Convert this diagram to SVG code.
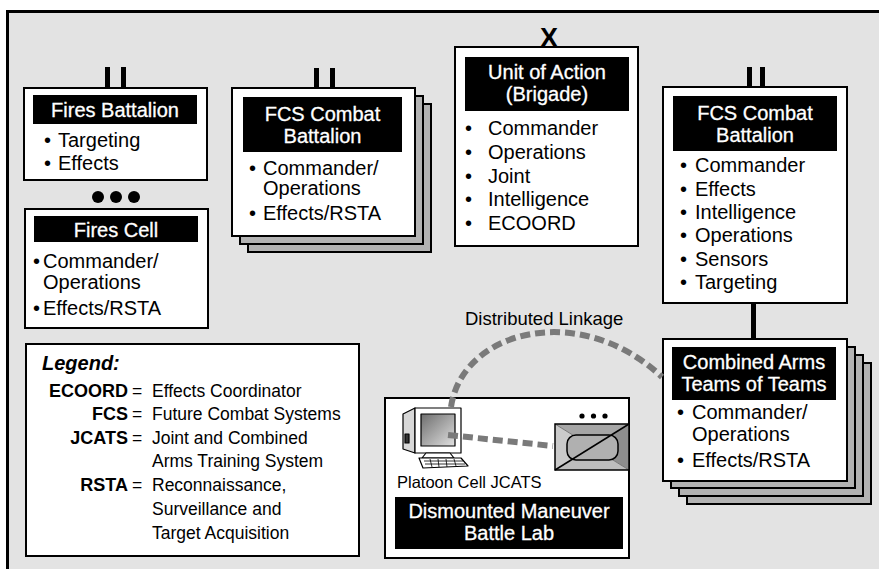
<svg xmlns="http://www.w3.org/2000/svg" width="879" height="569" viewBox="0 0 879 569">
<style>
text{font-family:"Liberation Sans",Arial,sans-serif;fill:#000}
.box{fill:#fff;stroke:#000;stroke-width:2}
.back{fill:#b3b3b3;stroke:#000;stroke-width:2}
.bar{fill:#000}
.tt{font-size:20px;fill:#fff;text-anchor:middle;stroke:#fff;stroke-width:0.3}
.it{font-size:20px}
.lg{font-size:17.5px}
.ab{font-size:18px;font-weight:bold;text-anchor:end}
.sym{fill:#000}
.dash{fill:none;stroke:#7a7a7a;stroke-width:6;stroke-dasharray:10 5}
</style>
<defs>
<linearGradient id="scr" x1="0" y1="0" x2="1" y2="1">
<stop offset="0" stop-color="#6e6e6e"/>
<stop offset="1" stop-color="#e0e0e0"/>
</linearGradient>
</defs>
<rect x="7.5" y="11.5" width="890" height="580" fill="#e3e3e3" stroke="#000" stroke-width="3"/>

<g id="fires-battalion">
<rect class="sym" x="105" y="67" width="5" height="21"/>
<rect class="sym" x="121" y="67" width="5" height="21"/>
<rect class="box" x="24" y="88" width="183" height="92"/>
<rect class="bar" x="33" y="95" width="164" height="29"/>
<text class="tt" x="115" y="117">Fires Battalion</text>
<text class="it" x="44" y="147">•</text><text class="it" x="58" y="147">Targeting</text>
<text class="it" x="44" y="170">•</text><text class="it" x="58" y="170">Effects</text>
</g>

<g id="dots-left">
<circle cx="98" cy="197" r="6"/>
<circle cx="116" cy="197" r="6"/>
<circle cx="134" cy="197" r="6"/>
</g>

<g id="fires-cell">
<rect class="box" x="25" y="209" width="183" height="119"/>
<rect class="bar" x="34" y="216" width="164" height="26"/>
<text class="tt" x="116" y="237">Fires Cell</text>
<text class="it" x="33" y="268">•</text><text class="it" x="43" y="268">Commander/</text>
<text class="it" x="43" y="289">Operations</text>
<text class="it" x="33" y="315">•</text><text class="it" x="43" y="315">Effects/RSTA</text>
</g>

<g id="fcs-battalion-left">
<rect class="sym" x="314" y="68" width="5" height="20"/>
<rect class="sym" x="330" y="68" width="5" height="20"/>
<rect class="back" x="248" y="104" width="183" height="148"/>
<rect class="back" x="240" y="96" width="183" height="148"/>
<rect class="box" x="232" y="88" width="183" height="148"/>
<rect class="bar" x="243" y="97" width="159" height="55"/>
<text class="tt" x="322.5" y="121">FCS Combat</text>
<text class="tt" x="322.5" y="143">Battalion</text>
<text class="it" x="249" y="175">•</text><text class="it" x="263" y="175">Commander/</text>
<text class="it" x="263" y="195">Operations</text>
<text class="it" x="249" y="220">•</text><text class="it" x="263" y="220">Effects/RSTA</text>
</g>

<g id="unit-of-action">
<text x="549" y="47" font-size="27" font-weight="bold" text-anchor="middle">X</text>
<rect class="box" x="455" y="47" width="183" height="199"/>
<rect class="bar" x="465" y="57" width="164" height="54"/>
<text class="tt" x="547" y="79">Unit of Action</text>
<text class="tt" x="547" y="101">(Brigade)</text>
<text class="it" x="465" y="135">•</text><text class="it" x="488" y="135">Commander</text>
<text class="it" x="465" y="159">•</text><text class="it" x="488" y="159">Operations</text>
<text class="it" x="465" y="183">•</text><text class="it" x="488" y="183">Joint</text>
<text class="it" x="465" y="206">•</text><text class="it" x="488" y="206">Intelligence</text>
<text class="it" x="465" y="230">•</text><text class="it" x="488" y="230">ECOORD</text>
</g>

<g id="fcs-battalion-right">
<rect class="sym" x="747" y="67" width="5" height="20"/>
<rect class="sym" x="760" y="67" width="5" height="20"/>
<rect class="box" x="663" y="87" width="184" height="216"/>
<rect class="bar" x="673" y="96" width="164" height="55"/>
<text class="tt" x="755" y="120">FCS Combat</text>
<text class="tt" x="755" y="142">Battalion</text>
<text class="it" x="680" y="172">•</text><text class="it" x="695" y="172">Commander</text>
<text class="it" x="680" y="196">•</text><text class="it" x="695" y="196">Effects</text>
<text class="it" x="680" y="219">•</text><text class="it" x="695" y="219">Intelligence</text>
<text class="it" x="680" y="242">•</text><text class="it" x="695" y="242">Operations</text>
<text class="it" x="680" y="266">•</text><text class="it" x="695" y="266">Sensors</text>
<text class="it" x="680" y="289">•</text><text class="it" x="695" y="289">Targeting</text>
</g>

<g id="combined-arms">
<rect class="back" x="687" y="363" width="184" height="141"/>
<rect class="back" x="679" y="355" width="184" height="141"/>
<rect class="back" x="671" y="347" width="184" height="141"/>
<rect class="box" x="663" y="339" width="184" height="142"/>
<rect class="bar" x="672" y="347" width="164" height="53"/>
<text class="tt" x="754" y="369">Combined Arms</text>
<text class="tt" x="754" y="391">Teams of Teams</text>
<text class="it" x="677" y="419">•</text><text class="it" x="692" y="419">Commander/</text>
<text class="it" x="692" y="441">Operations</text>
<text class="it" x="677" y="467">•</text><text class="it" x="692" y="467">Effects/RSTA</text>
</g>

<g id="legend">
<rect class="box" x="26" y="344" width="333" height="212"/>
<text x="42" y="370" font-size="20" font-weight="bold" font-style="italic">Legend:</text>
<text class="ab" x="128" y="397">ECOORD</text><text class="lg" x="132" y="397">=</text><text class="lg" x="152" y="397">Effects Coordinator</text>
<text class="ab" x="128" y="420">FCS</text><text class="lg" x="132" y="420">=</text><text class="lg" x="152" y="420">Future Combat Systems</text>
<text class="ab" x="128" y="444">JCATS</text><text class="lg" x="132" y="444">=</text><text class="lg" x="152" y="444">Joint and Combined</text>
<text class="lg" x="152" y="467">Arms Training System</text>
<text class="ab" x="128" y="491">RSTA</text><text class="lg" x="132" y="491">=</text><text class="lg" x="152" y="491">Reconnaissance,</text>
<text class="lg" x="152" y="515">Surveillance and</text>
<text class="lg" x="152" y="539">Target Acquisition</text>
</g>

<g id="battle-lab">
<rect class="box" x="385" y="398" width="244" height="160"/>
<rect class="bar" x="395" y="497" width="228" height="52"/>
<text class="tt" x="509" y="518">Dismounted Maneuver</text>
<text class="tt" x="509" y="540">Battle Lab</text>
<text x="397" y="488" font-size="16.5">Platoon Cell JCATS</text>
</g>

<g id="computer" stroke="#000" stroke-width="1.2" stroke-linejoin="round">
<polygon points="403,414 415,408 415,453 403,449" fill="#d8d8d8"/>
<rect x="405" y="434" width="4" height="9" fill="#333"/>
<rect x="415" y="408" width="46" height="45" fill="#fff"/>
<rect x="421" y="414" width="34" height="32" fill="url(#scr)"/>
<polygon points="426,453 450,453 454,458 422,458" fill="#fff"/>
<polygon points="419,458 461,458 468,466 423,468" fill="#fff"/>
<path d="M424 461 L463 461 M425 464 L465 464 M430 459 L432 467 M438 459 L439 467 M446 459 L447 467 M454 459 L456 466" stroke-width="0.8"/>
</g>

<g id="vehicle">
<circle cx="582" cy="416" r="2.6"/>
<circle cx="593.5" cy="416" r="2.6"/>
<circle cx="605" cy="416" r="2.6"/>
<polygon points="555,424 629,424 592,447" fill="#a6a6a6"/>
<polygon points="629,424 629,470 592,447" fill="#8e8e8e"/>
<polygon points="555,470 629,470 592,447" fill="#bdbdbd"/>
<polygon points="555,424 555,470 592,447" fill="#cacaca"/>
<line x1="555" y1="424" x2="629" y2="470" stroke="#777" stroke-width="1"/>
<rect x="567" y="435" width="51" height="25" rx="9" fill="#b0b0b0" stroke="#000" stroke-width="1.5"/>
<rect x="555" y="424" width="74" height="46" fill="none" stroke="#000" stroke-width="1.5"/>
<line x1="555" y1="470" x2="629" y2="424" stroke="#000" stroke-width="1.5"/>
</g>

<g id="connectors">
<rect x="751" y="303" width="5" height="36" fill="#000"/>
<path class="dash" d="M451 407 C462 330 580 300 662 377"/>
<path class="dash" d="M448 435 L553 446"/>
<text x="465" y="325" font-size="18.5">Distributed Linkage</text>
</g>
</svg>
